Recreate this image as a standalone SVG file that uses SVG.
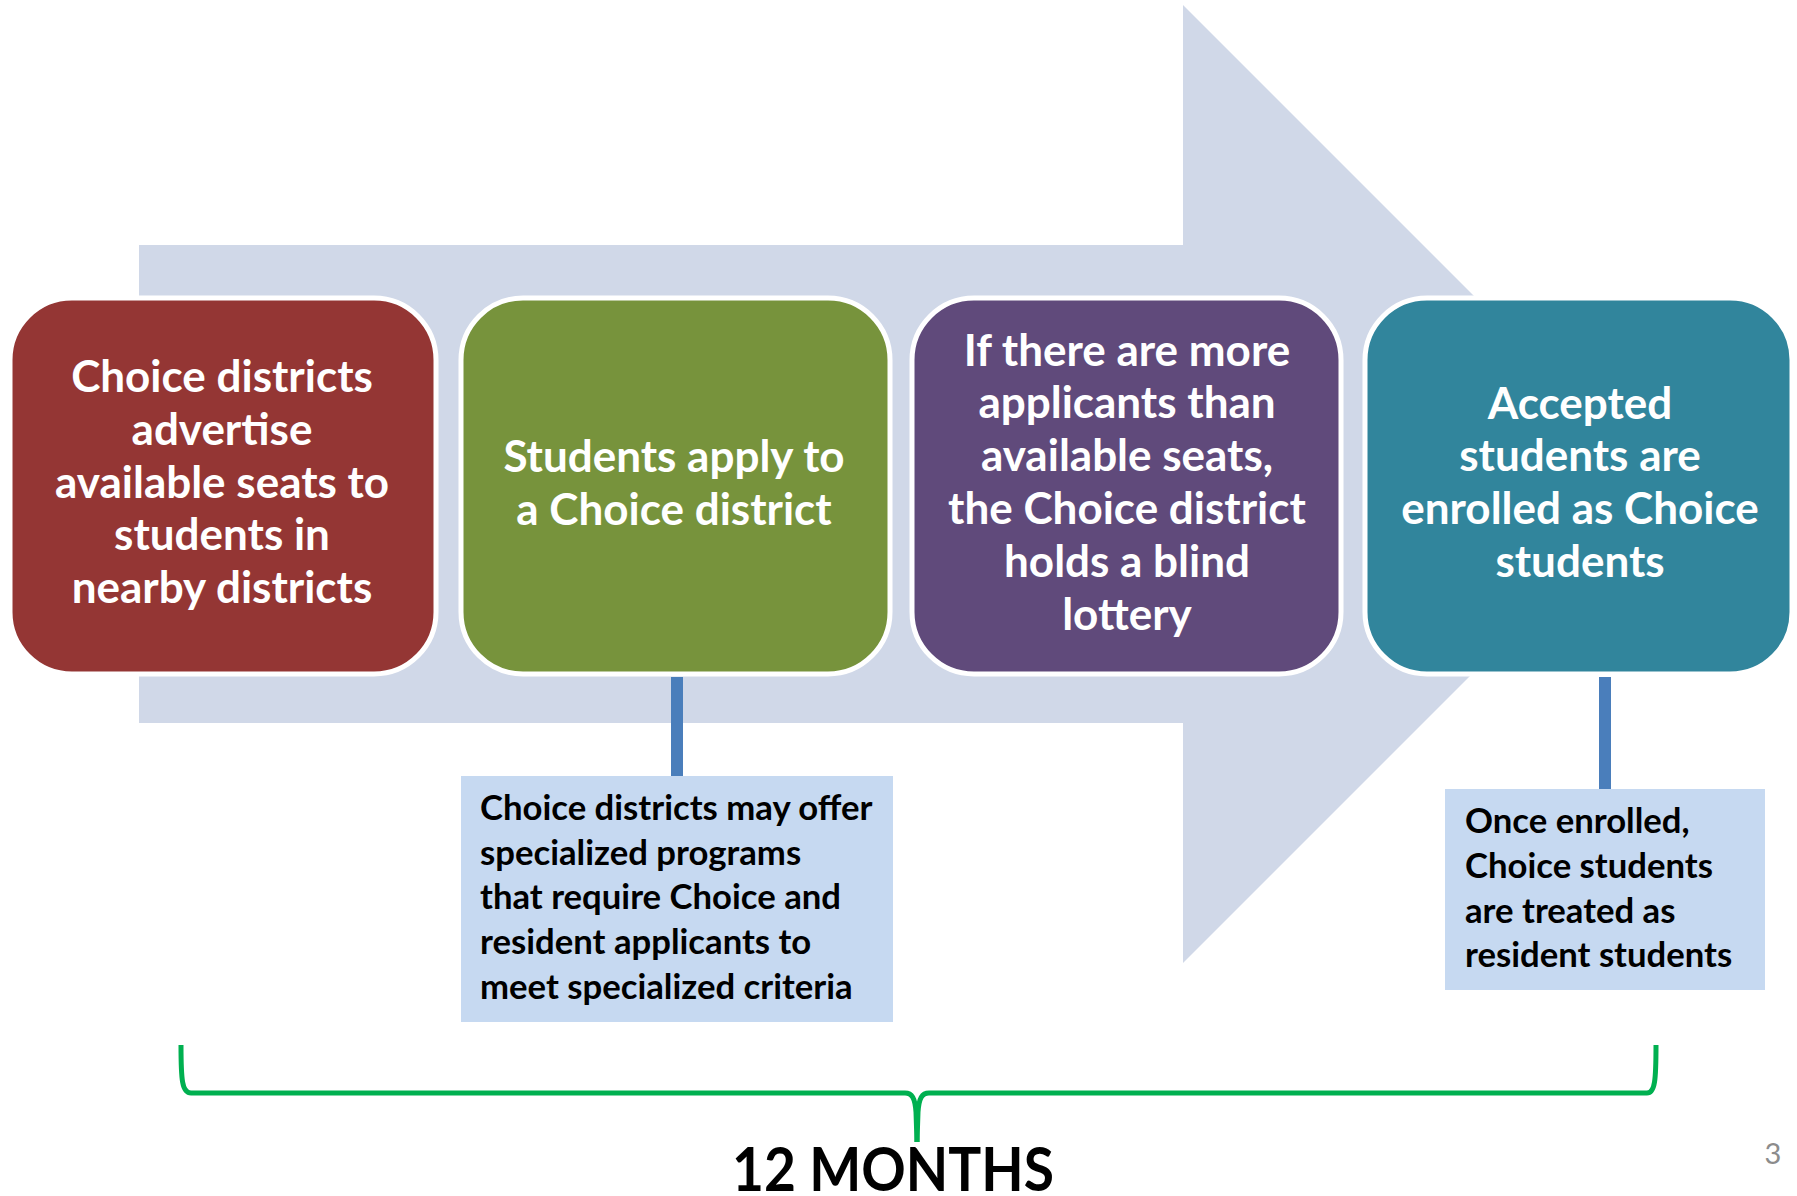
<svg xmlns="http://www.w3.org/2000/svg" width="1797" height="1196" viewBox="0 0 1797 1196">
<style>
.box{stroke:#FFFFFF;stroke-width:5}
.bt{font-family:Lato,"Open Sans","Liberation Sans",sans-serif;font-weight:bold;font-size:44px;fill:#FFFFFF;text-anchor:middle}
.ct{font-family:Lato,"Open Sans","Liberation Sans",sans-serif;font-weight:bold;font-size:34.7px;fill:#000000}
.call{fill:#C6D9F1}
.bar{fill:#4A7EBB}
</style>
<rect width="1797" height="1196" fill="#FFFFFF"/>
<text x="606" y="-14" font-family="Lato,'Liberation Sans',sans-serif" font-weight="bold" font-size="64" fill="#1F497D">pp</text>
<g id="arrow">
<polygon points="139,245 1183,245 1183,5 1662,484 1183,963 1183,723 139,723" fill="#D0D8E8"/>
</g>
<g id="connectors">
<rect class="bar" x="671" y="677" width="12" height="99"/>
<rect class="bar" x="1599" y="677" width="12" height="112"/>
<path d="M181,1045 C181,1080 182,1093 191,1093 L905,1093 C912,1093 915,1098 916,1112 L917,1142" fill="none" stroke="#00B050" stroke-width="5" stroke-linejoin="round"/>
<path d="M917,1142 L918,1112 C919,1098 922,1093 929,1093 L1647,1093 C1655,1093 1656,1080 1656,1045" fill="none" stroke="#00B050" stroke-width="5" stroke-linejoin="round"/>
</g>
<g id="box1">
<rect class="box" x="10" y="298" width="426" height="376" rx="62" fill="#943634"/>
<text class="bt" x="222" y="392">Choice districts</text>
<text class="bt" x="222" y="445">advertise</text>
<text class="bt" x="222" y="498">available seats to</text>
<text class="bt" x="222" y="550">students in</text>
<text class="bt" x="222" y="603">nearby districts</text>
</g>
<g id="box2">
<rect class="box" x="461" y="298" width="429" height="376" rx="62" fill="#77933C"/>
<text class="bt" x="674" y="472">Students apply to</text>
<text class="bt" x="674" y="525">a Choice district</text>
</g>
<g id="box3">
<rect class="box" x="912" y="298" width="429" height="376" rx="62" fill="#604A7B"/>
<text class="bt" x="1127" y="366">If there are more</text>
<text class="bt" x="1127" y="418">applicants than</text>
<text class="bt" x="1127" y="471">available seats,</text>
<text class="bt" x="1127" y="524">the Choice district</text>
<text class="bt" x="1127" y="577">holds a blind</text>
<text class="bt" x="1127" y="630">lottery</text>
</g>
<g id="box4">
<rect class="box" x="1365" y="298" width="427" height="376" rx="62" fill="#31859C"/>
<text class="bt" x="1580" y="419">Accepted</text>
<text class="bt" x="1580" y="471">students are</text>
<text class="bt" x="1580" y="524">enrolled as Choice</text>
<text class="bt" x="1580" y="577">students</text>
</g>
<g id="note1">
<rect class="call" x="461" y="776" width="432" height="246"/>
<text class="ct" x="480" y="820">Choice districts may offer</text>
<text class="ct" x="480" y="865">specialized programs</text>
<text class="ct" x="480" y="909">that require Choice and</text>
<text class="ct" x="480" y="954">resident applicants to</text>
<text class="ct" x="480" y="999">meet specialized criteria</text>
</g>
<g id="note2">
<rect class="call" x="1445" y="789" width="320" height="201"/>
<text class="ct" x="1465" y="833">Once enrolled,</text>
<text class="ct" x="1465" y="878">Choice students</text>
<text class="ct" x="1465" y="923">are treated as</text>
<text class="ct" x="1465" y="967">resident students</text>
</g>
<g id="label">
<text x="732" y="1191" textLength="322" lengthAdjust="spacingAndGlyphs" font-family="Lato,'Open Sans','Liberation Sans',sans-serif" font-weight="bold" font-size="62" fill="#000000">12 MONTHS</text>
<text x="1773" y="1164" font-family="Lato,'Liberation Sans',sans-serif" font-size="29" fill="#8C8C8C" text-anchor="middle">3</text>
</g>
</svg>
